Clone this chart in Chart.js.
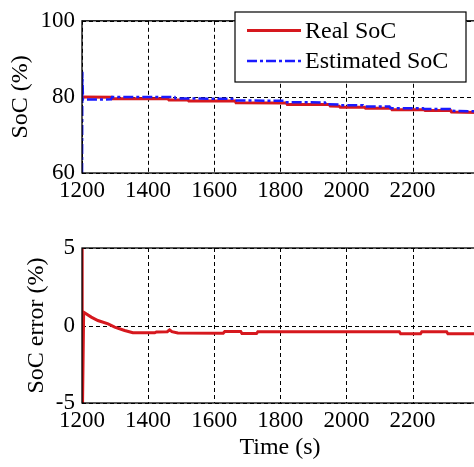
<!DOCTYPE html>
<html>
<head>
<meta charset="utf-8">
<script src="https://cdn.jsdelivr.net/npm/chart.js@4"></script>
<style>
  html, body { margin: 0; padding: 0; background: #fff; overflow: hidden; }
  #top { position: absolute; left: 0; top: 0; }
  #bottom { position: absolute; left: 0; top: 215px; }
</style>
</head>
<body>
<canvas id="top" width="490" height="215"></canvas>
<canvas id="bottom" width="490" height="252"></canvas>
<script>
// Real SoC (%)
const realTime = [1200, 1290, 1292, 1460, 1463, 1520, 1523, 1663, 1666, 1818, 1821, 1948, 1951, 1978, 1981, 2055, 2058, 2135, 2138, 2235, 2238, 2315, 2318, 2400];
const realSoc  = [80.0, 79.9, 79.5, 79.5, 79.2, 79.2, 78.95, 78.95, 78.45, 78.4, 78.0, 78.0, 77.6, 77.55, 77.3, 77.3, 77.0, 77.0, 76.65, 76.6, 76.4, 76.4, 76.0, 75.9];

// Estimated SoC (%)
const estTime = [1200, 1201, 1203, 1288, 1291, 1480, 1483, 1660, 1663, 1813, 1816, 1935, 1938, 1978, 1981, 2050, 2053, 2130, 2133, 2232, 2235, 2313, 2316, 2400];
const estSoc  = [55, 86.6, 79.3, 79.35, 80.0, 80.0, 79.6, 79.5, 79.05, 79.0, 78.6, 78.55, 78.05, 78.0, 77.8, 77.8, 77.5, 77.5, 77.05, 77.0, 76.8, 76.8, 76.35, 76.2];

// SoC error (%)
const errTime = [1200, 1200.5, 1205, 1228, 1248, 1279, 1299, 1329, 1354, 1420, 1425, 1458, 1465, 1472, 1490, 1627, 1632, 1680, 1684, 1728, 1732, 2160, 2164, 2224, 2228, 2303, 2307, 2400];
const errSoc  = [25, -7, 0.85, 0.54, 0.32, 0.1, -0.1, -0.32, -0.47, -0.47, -0.42, -0.4, -0.28, -0.4, -0.48, -0.5, -0.38, -0.38, -0.52, -0.52, -0.4, -0.4, -0.53, -0.53, -0.4, -0.4, -0.53, -0.53];

const xTicks = [1200, 1400, 1600, 1800, 2000, 2200];
const socTicks = [60, 80, 100];
const errTicks = [-5, 0, 5];

const RED = 'rgb(214, 24, 30)';
const BLUE = 'rgb(26, 26, 255)';
const FONT = 'Liberation Serif';

function pts(xs, ys) {
    return xs.map((x, i) => ({ x: x, y: ys[i] }));
}

// dashed grid at the tick positions, drawn under the lines
const dashGrid = {
    id: 'dashGrid',
    beforeDatasetsDraw(chart) {
        const a = chart.chartArea;
        const ctx = chart.ctx;
        ctx.save();
        ctx.strokeStyle = '#000';
        ctx.lineWidth = 1;
        ctx.setLineDash([4, 3]);
        chart.scales.x.ticks.forEach(t => {
            const px = Math.round(chart.scales.x.getPixelForValue(t.value)) + 0.5;
            ctx.beginPath();
            ctx.moveTo(px, a.top);
            ctx.lineTo(px, a.bottom);
            ctx.stroke();
        });
        chart.scales.y.ticks.forEach(t => {
            const py = Math.round(chart.scales.y.getPixelForValue(t.value)) + 0.5;
            ctx.beginPath();
            ctx.moveTo(a.left, py);
            ctx.lineTo(a.right, py);
            ctx.stroke();
        });
        ctx.restore();
    }
};

// black box around the axes, like matlab
const framePlugin = {
    id: 'frame',
    afterDatasetsDraw(chart) {
        const a = chart.chartArea;
        const ctx = chart.ctx;
        ctx.save();
        ctx.strokeStyle = '#000';
        ctx.lineWidth = 1.3;
        ctx.setLineDash([]);
        ctx.strokeRect(a.left, a.top, a.right - a.left, a.bottom - a.top);
        ctx.restore();
    }
};

// legend box in the upper right corner
const boxLegend = {
    id: 'boxLegend',
    afterDraw(chart) {
        const ctx = chart.ctx;
        const sets = chart.data.datasets;
        ctx.save();
        ctx.fillStyle = '#fff';
        ctx.fillRect(235, 12, 231, 70);
        ctx.strokeStyle = '#000';
        ctx.lineWidth = 1.2;
        ctx.strokeRect(235, 12, 231, 70);
        sets.forEach((ds, i) => {
            const y = 30.5 + i * 30.5;
            ctx.strokeStyle = ds.borderColor;
            ctx.lineWidth = ds.borderWidth;
            ctx.setLineDash(ds.borderDash || []);
            ctx.beginPath();
            ctx.moveTo(247, y);
            ctx.lineTo(301, y);
            ctx.stroke();
            ctx.setLineDash([]);
            ctx.fillStyle = '#000';
            ctx.font = '24px "' + FONT + '"';
            ctx.textBaseline = 'middle';
            ctx.fillText(ds.label, 305, y + 1);
        });
        ctx.restore();
    }
};

function xScale(height, showTitle) {
    return {
        type: 'linear',
        min: 1200,
        max: 2398,
        afterBuildTicks: s => { s.ticks = xTicks.map(v => ({ value: v })); },
        ticks: {
            color: '#000',
            font: { family: FONT, size: 23 },
            padding: 4,
            maxRotation: 0,
            callback: v => String(v)
        },
        grid: { display: false, drawTicks: false },
        border: { display: false },
        title: {
            display: showTitle,
            text: 'Time (s)',
            color: '#000',
            font: { family: FONT, size: 24 },
            padding: { top: 0, bottom: 5 }
        },
        afterFit: s => { s.height = height; }
    };
}

function yScale(min, max, ticks, label, width, titlePad) {
    return {
        min: min,
        max: max,
        afterBuildTicks: s => { s.ticks = ticks.map(v => ({ value: v })); },
        ticks: {
            color: '#000',
            font: { family: FONT, size: 23 },
            padding: 7,
            callback: v => String(v)
        },
        grid: { display: false, drawTicks: false },
        border: { display: false },
        title: {
            display: true,
            text: label,
            color: '#000',
            font: { family: FONT, size: 24 },
            padding: { top: titlePad, bottom: 0 }
        },
        afterFit: s => { s.width = width; }
    };
}

new Chart(document.getElementById('top').getContext('2d'), {
    type: 'line',
    data: {
        datasets: [
            {
                label: 'Real SoC',
                data: pts(realTime, realSoc),
                borderColor: RED,
                borderWidth: 3,
                pointRadius: 0,
                order: 2
            },
            {
                label: 'Estimated SoC',
                data: pts(estTime, estSoc),
                borderColor: BLUE,
                borderWidth: 2.5,
                borderDash: [10, 3, 3, 3],
                pointRadius: 0,
                order: 1
            }
        ]
    },
    options: {
        responsive: false,
        animation: false,
        layout: { padding: { top: 18, right: 12, left: 0, bottom: 0 } },
        plugins: { legend: { display: false }, tooltip: { enabled: false } },
        scales: {
            x: xScale(42, false),
            y: yScale(60, 100, socTicks, 'SoC (%)', 82, 6)
        }
    },
    plugins: [dashGrid, framePlugin, boxLegend]
});

new Chart(document.getElementById('bottom').getContext('2d'), {
    type: 'line',
    data: {
        datasets: [
            {
                label: 'SoC error',
                data: pts(errTime, errSoc),
                borderColor: RED,
                borderWidth: 3,
                pointRadius: 0
            }
        ]
    },
    options: {
        responsive: false,
        animation: false,
        layout: { padding: { top: 33, right: 12, left: 16, bottom: 0 } },
        plugins: { legend: { display: false }, tooltip: { enabled: false } },
        scales: {
            x: xScale(64, true),
            y: yScale(-5, 5, errTicks, 'SoC error (%)', 66, 6)
        }
    },
    plugins: [dashGrid, framePlugin]
});
</script>
</body>
</html>
